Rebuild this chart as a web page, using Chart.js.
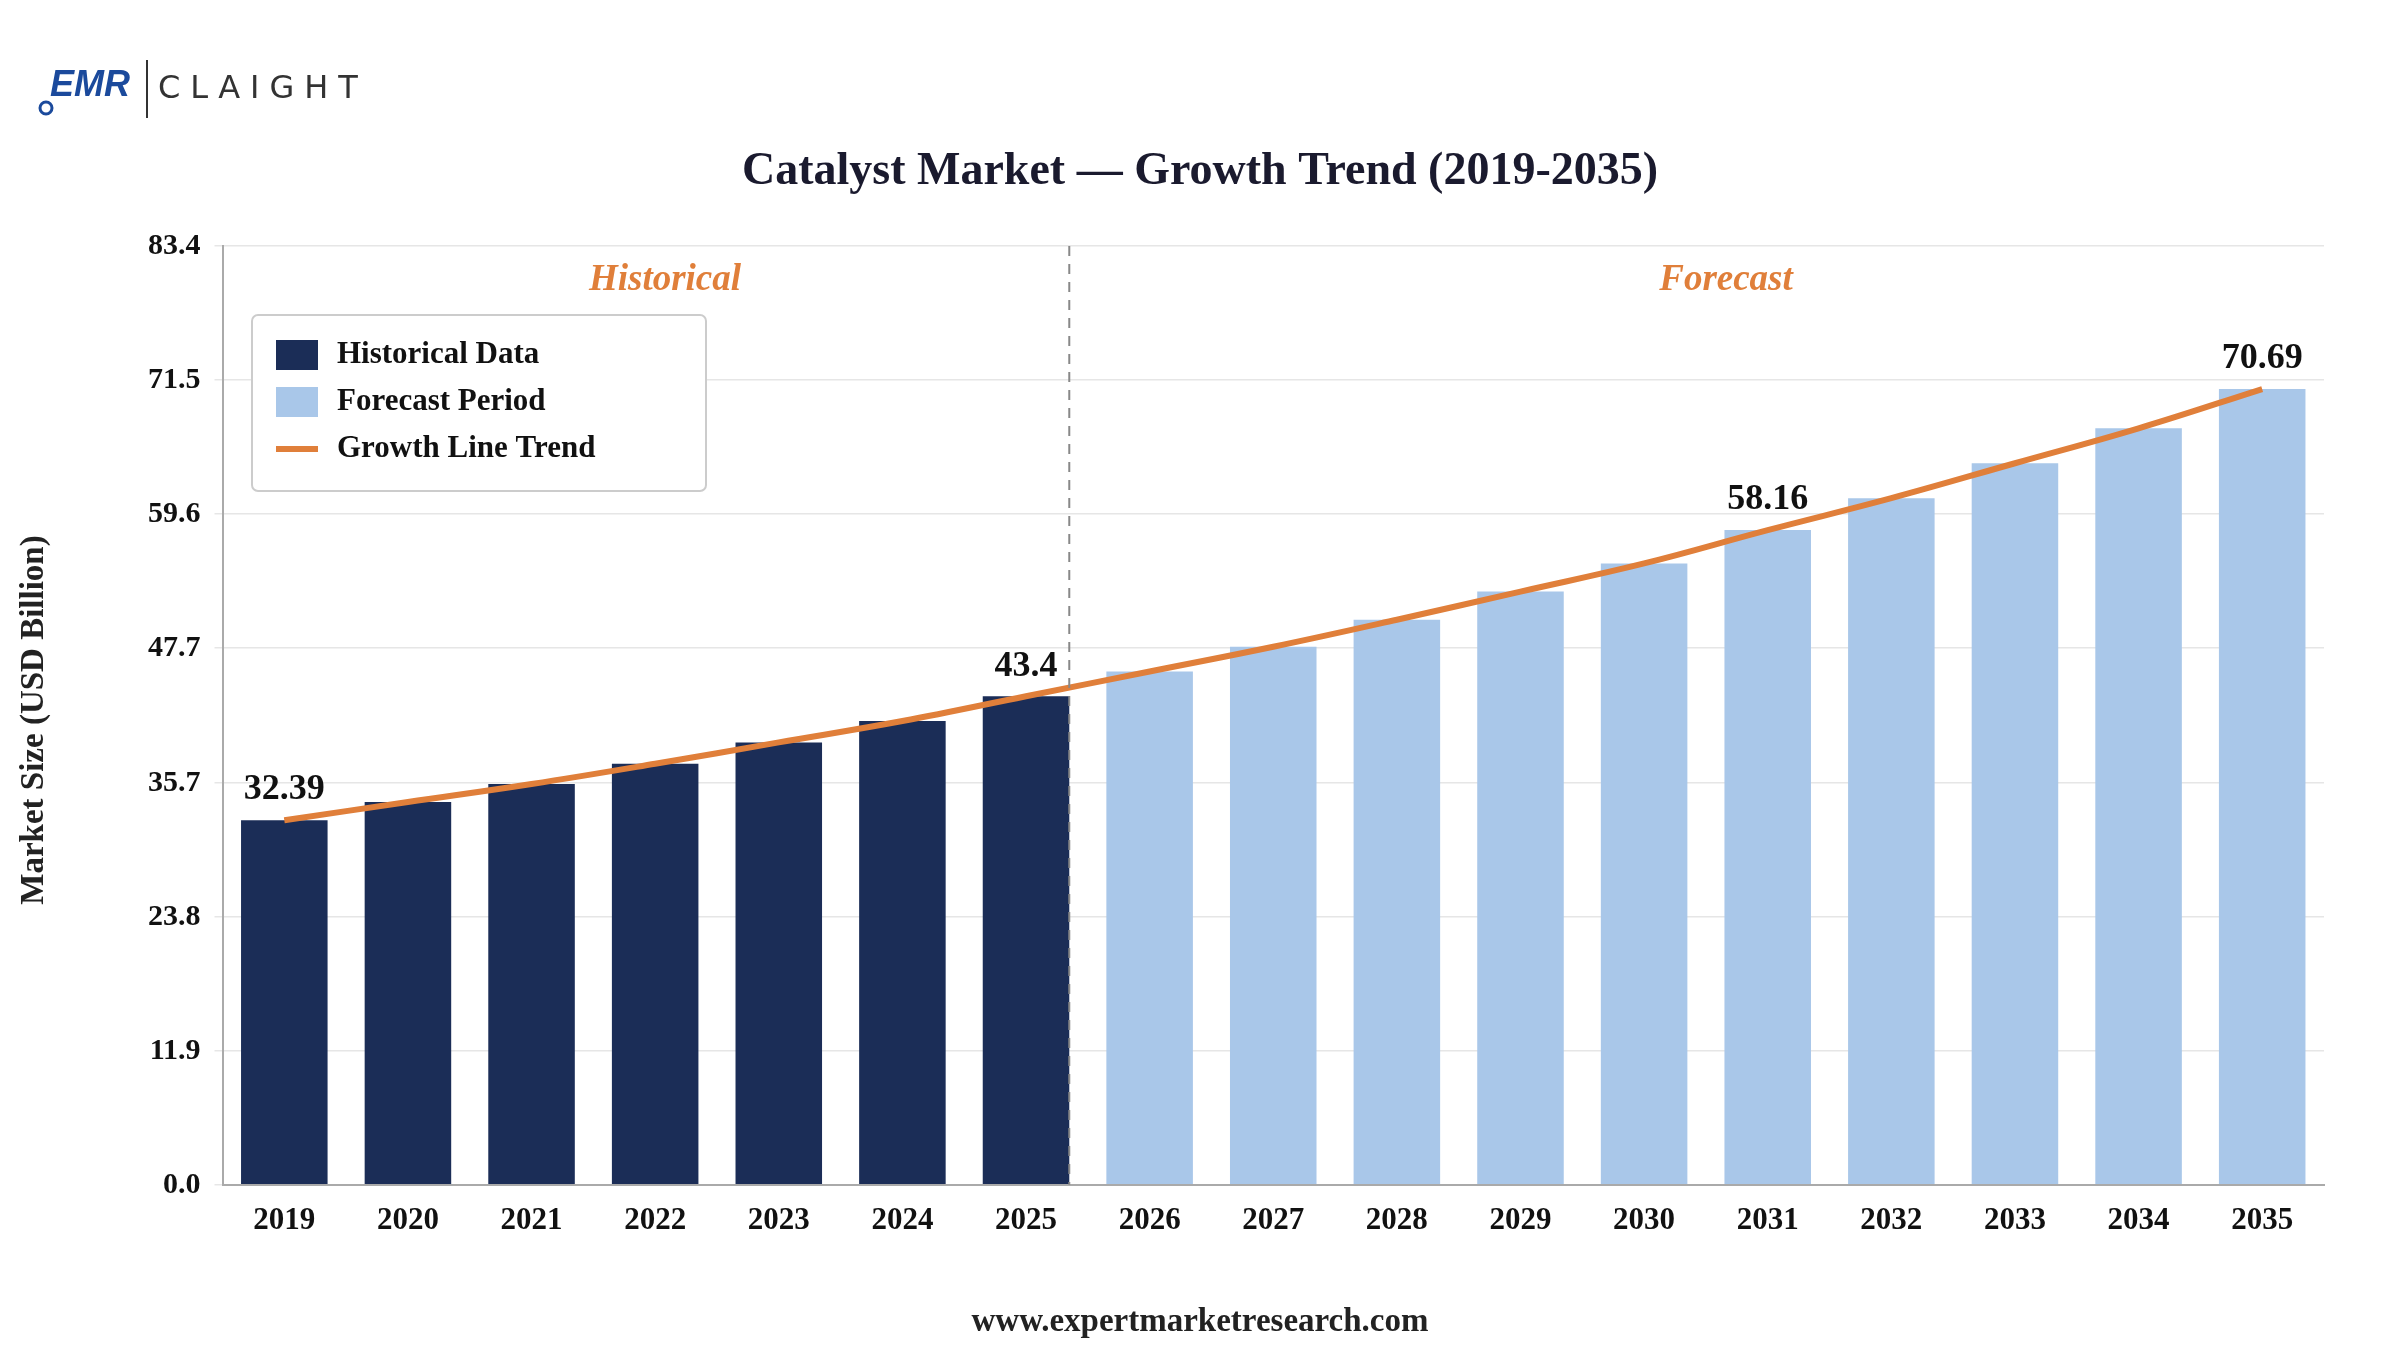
<!DOCTYPE html>
<html><head><meta charset="utf-8">
<script src="https://cdn.jsdelivr.net/npm/chart.js@4/dist/chart.umd.min.js"></script>
<style>html,body{margin:0;padding:0;background:#fff}</style></head>
<body><canvas id="c" width="2400" height="1350"></canvas>
<script>
const years = ['2019','2020','2021','2022','2023','2024','2025','2026','2027','2028','2029','2030','2031','2032','2033','2034','2035'];
const historical = [32.39,34.0,35.6,37.4,39.3,41.2,43.4,null,null,null,null,null,null,null,null,null,null];
const forecast = [null,null,null,null,null,null,null,45.6,47.8,50.2,52.7,55.2,58.16,61.0,64.1,67.2,70.69];
const trend = [32.39,34.0,35.6,37.4,39.3,41.2,43.4,45.6,47.8,50.2,52.7,55.2,58.16,61.0,64.1,67.2,70.69];
const yTicks = [0.0,11.9,23.8,35.7,47.7,59.6,71.5,83.4];
const labelled = {0:'32.39',6:'43.4',12:'58.16',16:'70.69'};
const SERIF = '"Liberation Serif","DejaVu Serif",serif';
const NAVY='#1B2D57', LIGHT='#A9C7E9', ORANGE='#E07F3A';

const deco = {
  id:'deco',
  afterDraw(ch){
    const c=ch.ctx, x=ch.scales.x, y=ch.scales.y, a=ch.chartArea;
    c.save();
    const el6=ch.getDatasetMeta(0).data[6];
    const xd=el6.x+el6.width/2;
    c.setLineDash([10,8]); c.strokeStyle='#888'; c.lineWidth=2;
    c.beginPath(); c.moveTo(xd,a.top); c.lineTo(xd,a.bottom); c.stroke(); c.setLineDash([]);
    c.fillStyle=ORANGE; c.font='italic bold 37px '+SERIF; c.textAlign='center'; c.textBaseline='middle';
    c.fillText('Historical',665,280); c.fillText('Forecast',1726,280);
    c.fillStyle='#111'; c.font='bold 36px '+SERIF; c.textBaseline='bottom';
    const mh=ch.getDatasetMeta(0), mf=ch.getDatasetMeta(1);
    for(const k in labelled){const i=+k; const el=(historical[i]!=null?mh:mf).data[i];
      c.fillText(labelled[k], el.x, el.y-12);}
    c.fillStyle='#fff'; c.strokeStyle='#ccc'; c.lineWidth=2;
    c.beginPath(); c.roundRect(252,315,454,176,6); c.fill(); c.stroke();
    const items=[[ch.data.datasets[0].label,NAVY,'box'],[ch.data.datasets[1].label,LIGHT,'box'],[ch.data.datasets[2].label,ORANGE,'line']];
    c.font='bold 31px '+SERIF; c.textAlign='left'; c.textBaseline='middle';
    items.forEach((it,j)=>{const yy=355+j*47; c.fillStyle=it[1];
      if(it[2]=='box') c.fillRect(276,yy-15,42,30); else c.fillRect(276,yy-3,42,6);
      c.fillStyle='#111'; c.fillText(it[0],337,yy);});
    c.textAlign='center'; c.textBaseline='middle';
    c.fillStyle='#1a1a2e'; c.font='bold 46px '+SERIF;
    c.fillText('Catalyst Market — Growth Trend (2019-2035)',1200,172);
    c.fillStyle='#222'; c.font='bold 33px '+SERIF; c.fillText('www.expertmarketresearch.com',1200,1322);
    c.save(); c.translate(34,720); c.rotate(-Math.PI/2);
    c.font='bold 33px '+SERIF; c.fillText('Market Size (USD Billion)',0,0); c.restore();
    c.textAlign='left'; c.fillStyle='#1B4A9C'; c.font='italic bold 36px "Liberation Sans",sans-serif';
    c.fillText('EMR',50,86);
    c.strokeStyle='#1B4A9C'; c.lineWidth=3; c.beginPath(); c.arc(46,108,6,0,7); c.stroke();
    c.fillStyle='#333'; c.fillRect(146,60,2,58);
    c.font='32px "DejaVu Sans",sans-serif'; c.fillStyle='#333';
    let px=158; 'CLAIGHT'.split('').forEach(ch2=>{c.fillText(ch2,px,90); px+=c.measureText(ch2).width+10;});
    c.restore();
  }
};

new Chart(document.getElementById('c'),{
  data:{labels:years,datasets:[
    {type:'bar',label:'Historical Data',data:historical,backgroundColor:NAVY,order:2,barPercentage:0.7,categoryPercentage:1},
    {type:'bar',label:'Forecast Period',data:forecast,backgroundColor:LIGHT,order:2,barPercentage:0.7,categoryPercentage:1},
    {type:'line',label:'Growth Line Trend',data:trend,borderColor:ORANGE,borderWidth:6,pointRadius:0,tension:0.4,order:0}
  ]},
  options:{responsive:false,devicePixelRatio:1,animation:false,
    layout:{padding:{left:134,right:76,top:246,bottom:100}},
    plugins:{legend:{display:false},tooltip:{enabled:false}},
    scales:{
      x:{stacked:true,grid:{display:false},border:{color:'#aaa',width:2},
        ticks:{color:'#111',font:{family:SERIF,size:31,weight:'bold'},padding:10}},
      y:{min:0,max:83.4,border:{color:'#aaa',width:2},grid:{color:'#e6e6e6',lineWidth:1.5},
        afterBuildTicks(s){s.ticks=yTicks.map(v=>({value:v}));},
        ticks:{color:'#111',font:{family:SERIF,size:30,weight:'bold'},padding:14,callback:v=>v.toFixed(1)}}
    }},
  plugins:[deco]
});
</script></body></html>
